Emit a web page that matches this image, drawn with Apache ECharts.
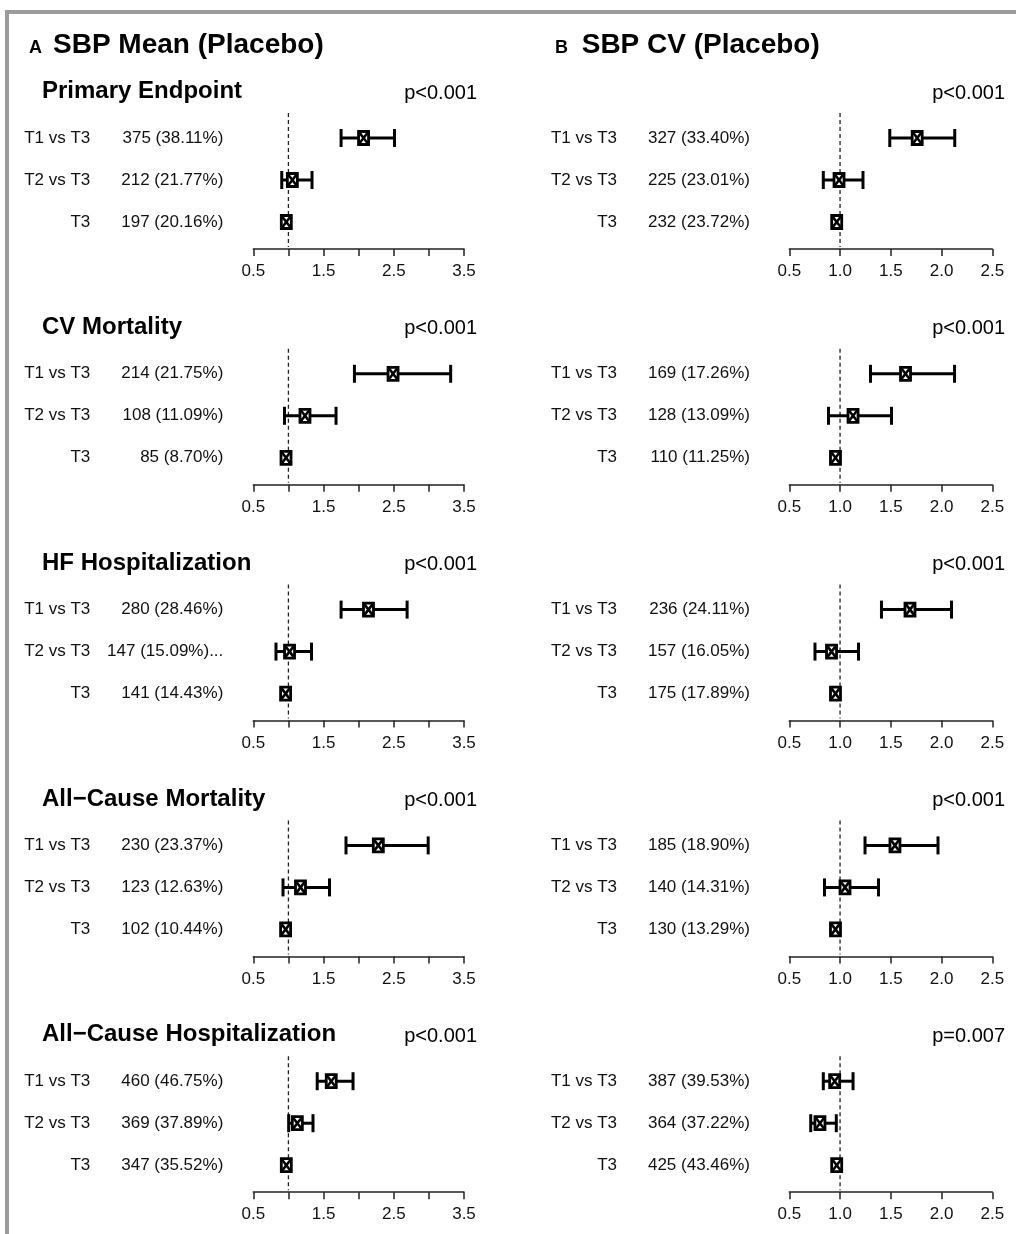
<!DOCTYPE html>
<html>
<head>
<meta charset="utf-8">
<script src="https://cdn.jsdelivr.net/npm/echarts@6/dist/echarts.min.js"></script>
<style>
  html, body { margin: 0; padding: 0; background: #fff; }
  #chart { width: 1016px; height: 1234px; }
</style>
</head>
<body>
<div id="chart"></div>
<script>
// ---------------- DATA ----------------
const panelTitles = ['SBP Mean (Placebo)', 'SBP CV (Placebo)'];
const panelLetters = ['A', 'B'];
const sections = ['Primary Endpoint', 'CV Mortality', 'HF Hospitalization', 'All\u2212Cause Mortality', 'All\u2212Cause Hospitalization'];
const rowLabels = ['T1 vs T3', 'T2 vs T3', 'T3'];

// Panel A: SBP mean
const meanEvents = [
  ['375 (38.11%)', '212 (21.77%)', '197 (20.16%)'],
  ['214 (21.75%)', '108 (11.09%)', '85 (8.70%)'],
  ['280 (28.46%)', '147 (15.09%)...', '141 (14.43%)'],
  ['230 (23.37%)', '123 (12.63%)', '102 (10.44%)'],
  ['460 (46.75%)', '369 (37.89%)', '347 (35.52%)']
];
const meanP = ['p<0.001', 'p<0.001', 'p<0.001', 'p<0.001', 'p<0.001'];
const meanEst = [[2.07, 1.056, 0.97], [2.49, 1.236, 0.966], [2.14, 1.016, 0.96], [2.28, 1.172, 0.96], [1.61, 1.127, 0.97]];
const meanLo  = [[1.75, 0.905, null], [1.94, 0.944, null], [1.75, 0.823, null], [1.82, 0.923, null], [1.41, 1.004, null]];
const meanHi  = [[2.51, 1.336, null], [3.31, 1.678, null], [2.69, 1.329, null], [2.99, 1.585, null], [1.92, 1.35, null]];
const meanTickLabels = ['0.5', '1.5', '2.5', '3.5'];

// Panel B: SBP CV
const cvEvents = [
  ['327 (33.40%)', '225 (23.01%)', '232 (23.72%)'],
  ['169 (17.26%)', '128 (13.09%)', '110 (11.25%)'],
  ['236 (24.11%)', '157 (16.05%)', '175 (17.89%)'],
  ['185 (18.90%)', '140 (14.31%)', '130 (13.29%)'],
  ['387 (39.53%)', '364 (37.22%)', '425 (43.46%)']
];
const cvP = ['p<0.001', 'p<0.001', 'p<0.001', 'p<0.001', 'p=0.007'];
const cvEst = [[1.76, 0.99, 0.967], [1.645, 1.128, 0.955], [1.689, 0.916, 0.955], [1.541, 1.049, 0.955], [0.947, 0.802, 0.967]];
const cvLo  = [[1.49, 0.835, null], [1.30, 0.886, null], [1.408, 0.753, null], [1.246, 0.847, null], [0.835, 0.711, null]];
const cvHi  = [[2.13, 1.226, null], [2.128, 1.507, null], [2.098, 1.182, null], [1.965, 1.379, null], [1.128, 0.963, null]];
const cvTickLabels = ['0.5', '1.0', '1.5', '2.0', '2.5'];

const refValue = 1;
const axisMax = [3.5, 2.5];

// ---------------- LAYOUT / STYLE ----------------
const FONT = "'Liberation Sans', Arial, Helvetica, sans-serif";
const secStep = 235.8;
const gridLeft = [253.3, 789.3];
const gridWidth = [210.7, 203];
const labelMargin = [30, 39.3];

const panels = [
  { events: meanEvents, p: meanP, est: meanEst, lo: meanLo, hi: meanHi, ticks: meanTickLabels },
  { events: cvEvents, p: cvP, est: cvEst, lo: cvLo, hi: cvHi, ticks: cvTickLabels }
];

function renderCI(params, api) {
  const lo = api.value(0), hi = api.value(1), est = api.value(2), idx = api.value(3);
  const c = api.coord([est, idx]);
  const children = [];
  const st = { stroke: '#000', lineWidth: 3 };
  if (lo != null && !isNaN(lo) && hi != null && !isNaN(hi)) {
    const a = api.coord([lo, idx]), b = api.coord([hi, idx]);
    children.push({ type: 'line', shape: { x1: a[0], y1: a[1], x2: b[0], y2: b[1] }, style: st });
    children.push({ type: 'line', shape: { x1: a[0], y1: a[1] - 9, x2: a[0], y2: a[1] + 9 }, style: st });
    children.push({ type: 'line', shape: { x1: b[0], y1: b[1] - 9, x2: b[0], y2: b[1] + 9 }, style: st });
  }
  const w = 10, h = 13;
  children.push({ type: 'rect', shape: { x: c[0] - w / 2, y: c[1] - h / 2, width: w, height: h }, style: { fill: '#fff', stroke: '#000', lineWidth: 2.8 } });
  children.push({ type: 'line', shape: { x1: c[0] - w / 2, y1: c[1] - h / 2, x2: c[0] + w / 2, y2: c[1] + h / 2 }, style: { stroke: '#000', lineWidth: 2.6 } });
  children.push({ type: 'line', shape: { x1: c[0] + w / 2, y1: c[1] - h / 2, x2: c[0] - w / 2, y2: c[1] + h / 2 }, style: { stroke: '#000', lineWidth: 2.6 } });
  return { type: 'group', children };
}

function renderRef(params, api) {
  const top = api.coord([api.value(0), 0]);
  const bot = api.coord([api.value(0), rowLabels.length - 1]);
  const bw = api.size([0, 1])[1];
  return {
    type: 'line',
    shape: { x1: top[0], y1: top[1] - bw / 2 - 4, x2: bot[0], y2: bot[1] + bw / 2 + 4 },
    style: { stroke: '#222', lineWidth: 1.3, lineDash: [4, 3] }
  };
}

const grid = [], xAxis = [], yAxis = [], series = [], graphic = [];

graphic.push({ type: 'rect', silent: true, shape: { x: 7, y: 12, width: 1200, height: 1400 }, style: { fill: 'none', stroke: '#9b9b9b', lineWidth: 4 } });

const letterX = [29, 555], titleX = [53, 581.7];
for (let p = 0; p < 2; p++) {
  graphic.push({ type: 'text', x: letterX[p], y: 48.5, style: { text: panelLetters[p], font: 'bold 18px ' + FONT, fill: '#000', align: 'left', verticalAlign: 'middle' } });
  graphic.push({ type: 'text', x: titleX[p], y: 45, style: { text: panelTitles[p], font: 'bold 28px ' + FONT, fill: '#000', align: 'left', verticalAlign: 'middle' } });
}

let gi = 0;
for (let s = 0; s < sections.length; s++) {
  const top = 117 + s * secStep;
  graphic.push({ type: 'text', x: 42, y: 91.6 + s * secStep, style: { text: sections[s], font: 'bold 24px ' + FONT, fill: '#000', align: 'left', verticalAlign: 'middle' } });
  for (let p = 0; p < 2; p++) {
    const P = panels[p];
    graphic.push({ type: 'text', x: p === 0 ? 477 : 1005, y: 93 + s * secStep, style: { text: P.p[s], font: '20px ' + FONT, fill: '#000', align: 'right', verticalAlign: 'middle' } });
    grid.push({ left: gridLeft[p], width: gridWidth[p], top: top, height: 126, containLabel: false });
    const ticks = P.ticks;
    const events = P.events[s];
    xAxis.push({
      gridIndex: gi, type: 'value', min: 0.5, max: axisMax[p], interval: 0.5, offset: 6,
      splitLine: { show: false },
      axisLine: { show: true, onZero: false, lineStyle: { color: '#222', width: 1.5 } },
      axisTick: { show: true, inside: false, length: 7, lineStyle: { color: '#222', width: 1.5 } },
      axisLabel: {
        show: true, margin: 14, fontSize: 17, fontFamily: FONT, color: '#111', showMinLabel: true, showMaxLabel: true,
        formatter: v => (ticks.indexOf(v.toFixed(1)) >= 0 ? v.toFixed(1) : '')
      }
    });
    yAxis.push({
      gridIndex: gi, type: 'category', inverse: true, data: rowLabels,
      axisLine: { show: false }, axisTick: { show: false }, splitLine: { show: false },
      axisLabel: {
        margin: labelMargin[p],
        formatter: (v, i) => '{a|' + v + '}{b|' + events[i] + '}',
        rich: {
          a: { width: 70, align: 'right', fontSize: 17, fontFamily: FONT, color: '#111' },
          b: { width: 133, align: 'right', fontSize: 17, fontFamily: FONT, color: '#111' }
        }
      }
    });
    series.push({
      type: 'custom', xAxisIndex: gi, yAxisIndex: gi, renderItem: renderRef, silent: true,
      encode: { x: 0 }, data: [[refValue]], z: 1
    });
    const data = rowLabels.map((r, i) => [
      P.lo[s][i] == null ? '-' : P.lo[s][i],
      P.hi[s][i] == null ? '-' : P.hi[s][i],
      P.est[s][i], i
    ]);
    series.push({
      type: 'custom', xAxisIndex: gi, yAxisIndex: gi, renderItem: renderCI, silent: true,
      encode: { x: [0, 1, 2], y: 3 }, data: data, z: 3
    });
    gi++;
  }
}

const chart = echarts.init(document.getElementById('chart'), null, { renderer: 'canvas' });
chart.setOption({ animation: false, backgroundColor: '#fff', grid, xAxis, yAxis, series, graphic });
</script>
</body>
</html>
